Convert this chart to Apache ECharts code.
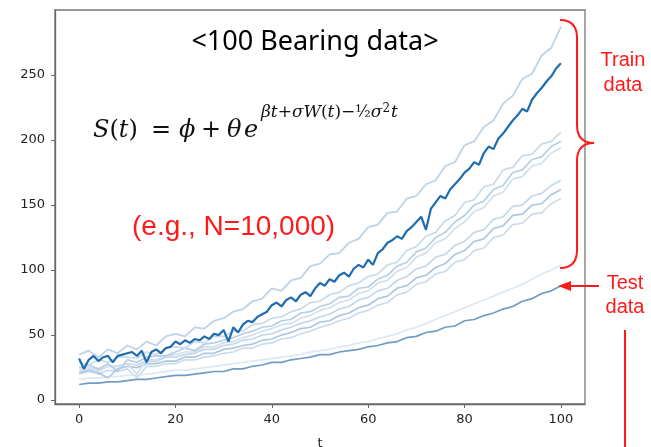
<!DOCTYPE html>
<html><head><meta charset="utf-8">
<script src="https://cdn.jsdelivr.net/npm/echarts@6/dist/echarts.min.js"></script>
<style>html,body{margin:0;padding:0;background:#fff}#c{width:651px;height:447px}</style>
</head><body><div id="c"></div>
<script>
// ---- data ----
const xTicks = [0, 20, 40, 60, 80, 100];
const yTicks = [0, 50, 100, 150, 200, 250];
const tFine = [0,1,2,3,4,5,6,7,8,9,10,11,12,13,14,15,16,17,18,19,20,21,22,23,24,25,26,27,28,29,30,31,32,33,34,35,36,37,38,39,40,41,42,43,44,45,46,47,48,49,50,51,52,53,54,55,56,57,58,59,60,61,62,63,64,65,66,67,68,69,70,71,72,73,74,75,76,77,78,79,80,81,82,83,84,85,86,87,88,89,90,91,92,93,94,95,96,97,98,99,100];
const tCoarse = [0,2,4,6,8,10,12,14,16,18,20,22,24,26,28,30,32,34,36,38,40,42,44,46,48,50,52,54,56,58,60,62,64,66,68,70,72,74,76,78,80,82,84,86,88,90,92,94,96,98,100];

// highlighted training bearing (dark)
const darkTrain = [32,24,31,34,30,33,34,29,34,35,36,37,34,38,29,37,39,36,40,41,45,43,46,44,47,46,49,47,51,50,54,45,56,52,58,61,60,64,66,68,73,75,72,77,79,76,81,83,80,86,90,88,93,91,96,98,95,101,104,102,108,104,113,116,121,123,126,124,130,133,137,141,131,147,152,157,155,162,166,170,175,178,183,181,190,195,193,201,205,210,215,219,224,222,231,236,240,245,249,255,259];
// other training bearings (light)
const trainA = [35,38,33,39,36,42,39,45,42,49,51,49,56,55,61,63,68,70,76,78,86,84,92,94,103,105,112,113,121,124,133,135,144,145,155,157,166,169,180,183,196,199,210,215,228,234,247,251,265,271,287];
const trainC1 = [29,27,31,29,33,33,32,37,35,40,41,40,45,44,49,49,53,53,58,59,63,64,68,70,75,76,81,83,88,90,95,97,104,106,115,118,126,129,138,142,152,154,164,166,177,179,188,189,197,199,206];
const trainC2 = [25,27,24,28,22,31,29,33,34,34,37,40,38,43,44,46,48,51,53,56,57,61,62,67,68,72,74,79,80,86,87,93,96,103,106,114,117,125,129,137,142,150,153,162,165,175,177,185,187,195,199];
const trainC3 = [23,25,22,26,26,28,20,31,31,34,35,37,37,41,41,44,45,48,50,53,55,58,59,63,65,69,71,75,77,82,84,90,92,99,102,110,113,121,124,132,137,145,148,157,160,170,172,180,182,190,194];
const trainD1 = [23,25,23,26,26,28,27,30,30,33,33,35,36,39,39,42,43,46,47,50,51,54,56,59,61,64,66,70,72,77,79,84,86,92,95,101,103,110,112,119,122,129,131,139,141,149,150,157,159,165,169];
const trainD2 = [21,23,21,17,24,26,25,28,28,30,30,33,33,36,36,39,40,42,43,46,47,50,52,55,56,60,61,65,67,71,73,78,80,86,88,94,96,102,105,112,115,122,124,132,134,142,143,150,151,158,162];
const trainD3 = [20,22,20,23,22,24,17,26,26,28,28,31,31,33,34,36,37,40,40,43,44,47,48,51,53,56,58,61,63,67,69,73,75,81,83,89,91,97,99,106,108,115,117,125,127,135,136,143,144,151,155];
const trainE = [16,17,17,18,18,19,19,20,21,22,23,23,24,25,26,27,28,29,30,31,32,33,34,35,37,38,39,41,42,44,45,47,49,51,54,56,59,62,65,68,71,74,77,80,83,86,89,93,97,100,104];
// test bearing
const testLine = [12,13,13,14,14,15,16,16,17,18,19,19,20,21,22,22,24,24,26,27,29,29,31,32,33,35,35,37,38,39,41,42,44,45,48,49,52,53,56,57,61,62,65,67,70,72,76,78,82,84,88];

// ---- build ----
function pts(xs, ys){ return xs.map((x,i)=>[x, ys[i]]); }
function ln(name, xs, ys, color, w, z){
  return {name, type:'line', data: pts(xs, ys), showSymbol:false, symbol:'none',
    lineStyle:{color, width:w}, z, silent:true, animation:false};
}
const series = [
  ln('E', tCoarse, trainE, '#dfe9f3', 1.8, 2),
  ln('D3', tCoarse, trainD3, '#cadcec', 1.7, 2),
  ln('D2', tCoarse, trainD2, '#adc7df', 1.7, 2),
  ln('D1', tCoarse, trainD1, '#c4d8ea', 1.7, 2),
  ln('C3', tCoarse, trainC3, '#d0e0ee', 1.7, 2),
  ln('C2', tCoarse, trainC2, '#b7cfe4', 1.7, 2),
  ln('C1', tCoarse, trainC1, '#c8dbec', 1.7, 2),
  ln('A', tCoarse, trainA, '#bfd3e6', 1.8, 2),
  ln('test', tCoarse, testLine, '#6f9dc5', 1.7, 3),
  ln('dark', tFine, darkTrain, '#1f6db0', 2.2, 4)
];

const red = '#ff1a1a';
const serif = '"DejaVu Serif","Liberation Serif",serif';
const sans = '"Noto Sans","Liberation Sans",Arial,sans-serif';
const ink = '#111';
function brace(){
  const s = {stroke:red, lineWidth:2, fill:null};
  return [
    {type:'bezierCurve', z:10, shape:{x1:560,y1:20,cpx1:577,cpy1:20,x2:577,y2:38}, style:s},
    {type:'line', z:10, shape:{x1:577,y1:38,x2:577,y2:125}, style:s},
    {type:'bezierCurve', z:10, shape:{x1:577,y1:125,cpx1:577,cpy1:143,x2:594,y2:143}, style:s},
    {type:'bezierCurve', z:10, shape:{x1:594,y1:143,cpx1:577,cpy1:143,x2:577,y2:161}, style:s},
    {type:'line', z:10, shape:{x1:577,y1:161,x2:577,y2:250}, style:s},
    {type:'bezierCurve', z:10, shape:{x1:577,y1:250,cpx1:577,cpy1:268,x2:560,y2:268}, style:s}
  ];
}
const chart = echarts.init(document.getElementById('c'), null, {renderer:'canvas'});
chart.setOption({
  animation:false,
  backgroundColor:'#fff',
  grid:{left:55, right:66, top:10, bottom:43, show:true, borderColor:'#777', borderWidth:1.3, outerBoundsMode:'none', containLabel:false},
  xAxis:{type:'value', min:-5, max:105, name:'t', nameLocation:'middle', nameGap:33,
    nameTextStyle:{color:'#222', fontSize:13, fontFamily:'DejaVu Sans'},
    splitLine:{show:false},
    axisLine:{show:true, onZero:false, lineStyle:{color:'#666', width:1.3}},
    axisTick:{show:true, length:4, customValues:xTicks, lineStyle:{color:'#666'}},
    axisLabel:{customValues:xTicks, color:'#222', fontSize:13, fontFamily:'DejaVu Sans', margin:9}},
  yAxis:{type:'value', min:-3, max:300,
    splitLine:{show:false},
    axisLine:{show:true, onZero:false, lineStyle:{color:'#666', width:1.3}},
    axisTick:{show:true, length:4, customValues:yTicks, lineStyle:{color:'#666'}},
    axisLabel:{customValues:yTicks, color:'#222', fontSize:13, fontFamily:'DejaVu Sans', margin:10}},
  series,
  graphic:[
    {type:'text', x:315, y:42, z:10, style:{text:'<100 Bearing data>', fill:'#000', fontSize:27, fontFamily:sans, align:'center', verticalAlign:'middle'}},
    {type:'text', x:93, y:131, z:10, style:{text:'{i|S}{r|(}{i|t}{r|)}', verticalAlign:'middle', rich:{i:{fontFamily:serif, fontStyle:'italic', fontSize:24, fill:ink}, r:{fontFamily:serif, fontSize:24, fill:ink}}}},
    {type:'text', x:151, y:131, z:10, style:{text:'=', fontFamily:serif, fontSize:24, fill:ink, verticalAlign:'middle'}},
    {type:'text', x:179, y:131, z:10, style:{text:'ϕ', fontFamily:serif, fontStyle:'italic', fontSize:24, fill:ink, verticalAlign:'middle'}},
    {type:'text', x:201, y:131, z:10, style:{text:'+', fontFamily:serif, fontSize:24, fill:ink, verticalAlign:'middle'}},
    {type:'text', x:227, y:131, z:10, style:{text:'θ', fontFamily:serif, fontStyle:'italic', fontSize:24, fill:ink, verticalAlign:'middle'}},
    {type:'text', x:244, y:131, z:10, style:{text:'e', fontFamily:serif, fontStyle:'italic', fontSize:24, fill:ink, verticalAlign:'middle'}},
    {type:'text', x:261, y:113, z:10, style:{text:'{i|βt}{r|+}{i|σW}{r|(}{i|t}{r|)−}{f|½}{i|σ}{s|2}{i|t}', verticalAlign:'middle',
      rich:{i:{fontFamily:serif, fontStyle:'italic', fontSize:17, fill:ink}, r:{fontFamily:serif, fontSize:17, fill:ink}, f:{fontFamily:serif, fontSize:16, fill:ink}, s:{fontFamily:serif, fontSize:12, fill:ink, verticalAlign:'top', padding:[0,1,8,0]}}}},
    {type:'text', x:132, y:227, z:10, style:{text:'(e.g., N=10,000)', fill:red, fontSize:28, fontFamily:'"Liberation Sans",Arial,sans-serif', verticalAlign:'middle'}},
    ...brace(),
    {type:'text', x:623, y:60, z:10, style:{text:'Train', fill:red, fontSize:20, fontFamily:'"Liberation Sans",Arial,sans-serif', align:'center', verticalAlign:'middle'}},
    {type:'text', x:623, y:85, z:10, style:{text:'data', fill:red, fontSize:20, fontFamily:'"Liberation Sans",Arial,sans-serif', align:'center', verticalAlign:'middle'}},
    {type:'line', z:10, shape:{x1:599, y1:286, x2:566, y2:286}, style:{stroke:red, lineWidth:2}},
    {type:'polygon', z:10, shape:{points:[[558,286],[571,281],[571,291]]}, style:{fill:red}},
    {type:'text', x:625, y:283, z:10, style:{text:'Test', fill:red, fontSize:20, fontFamily:'"Liberation Sans",Arial,sans-serif', align:'center', verticalAlign:'middle'}},
    {type:'text', x:625, y:307, z:10, style:{text:'data', fill:red, fontSize:20, fontFamily:'"Liberation Sans",Arial,sans-serif', align:'center', verticalAlign:'middle'}},
    {type:'line', z:10, shape:{x1:625, y1:330, x2:625, y2:447}, style:{stroke:red, lineWidth:2}}
  ]
});
</script></body></html>
